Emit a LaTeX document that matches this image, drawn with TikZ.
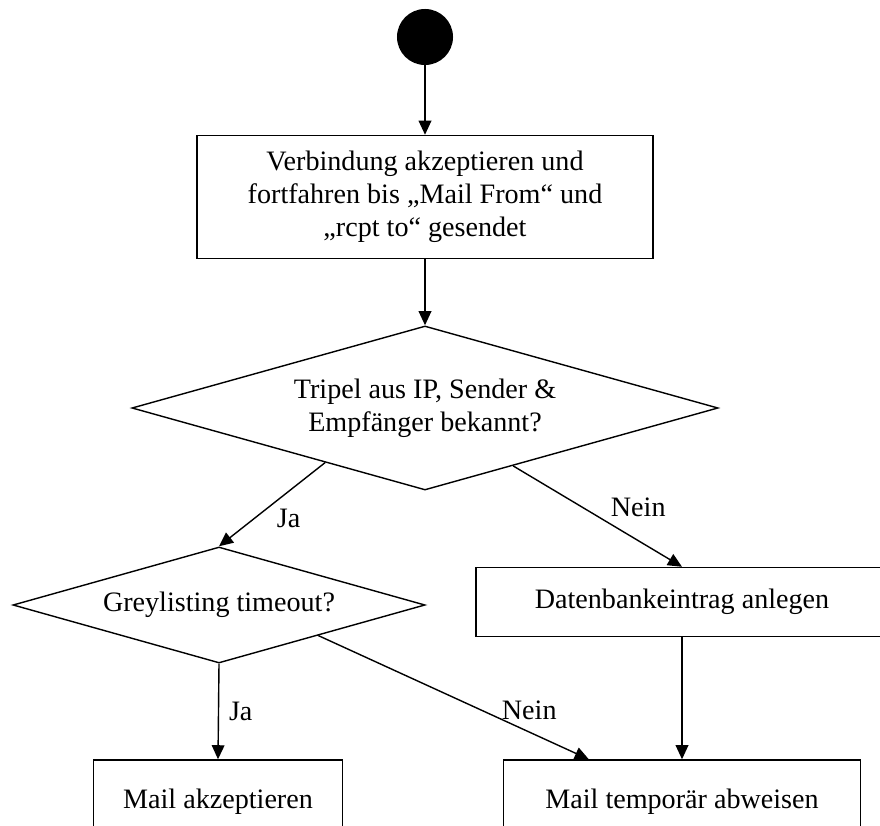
\documentclass[tikz,border=0pt]{standalone}
\usepackage{fontspec}
\setmainfont{Liberation Serif}
\usetikzlibrary{arrows.meta,positioning,calc,shapes.geometric}

\begin{document}
\begin{tikzpicture}[
    x=0.025cm,y=-0.025cm,
    font=\fontsize{20}{23.5}\selectfont,
    box/.style={draw,line width=1pt,align=center,inner sep=0pt},
    decision/.style={draw,diamond,line width=1pt,align=center,inner sep=0pt},
    flow/.style={->,line width=1pt},
    lbl/.style={inner sep=3pt},
    >={Triangle[length=10pt,width=9pt]}
]
\useasboundingbox (0,0) rectangle (880,826);
\clip (0,0) rectangle (880,826);

\node[fill,circle,minimum size=1.4cm,inner sep=0pt] (start) at (425,37) {};
\node[box,minimum width=11.4cm,minimum height=3.075cm] (accept) at (425,197) {Verbindung akzeptieren und\\fortfahren bis „Mail From“ und\\„rcpt to“ gesendet};
\node[decision,aspect=3.57,minimum width=14.65cm,minimum height=4.1cm] (triple) at (425,408) {Tripel aus IP, Sender \&\\Empfänger bekannt?};
\node[decision,aspect=3.55,minimum width=10.3cm,minimum height=2.9cm] (grey) at (219,605) {Greylisting timeout?};
\node[box,minimum width=10.3cm,minimum height=1.725cm] (db) at (682,602) {Datenbankeintrag anlegen};
\node[box,minimum width=6.225cm,minimum height=2.1cm] (mailok) at (218,802) {Mail akzeptieren};
\node[box,minimum width=8.925cm,minimum height=2.1cm] (reject) at (682,802) {Mail temporär abweisen};

\draw[flow] (start) -- (accept);
\draw[flow] (accept) -- (triple);
\draw[flow] ($(triple.west)!0.66!(triple.south)$) -- (grey.north) node[lbl,midway,below right] {Ja};
\draw[flow] ($(triple.east)!0.7!(triple.south)$) -- (db.north) node[lbl,pos=0.55,above right] {Nein};
\draw[flow] (grey.south) -- (mailok.north) node[lbl,midway,right=4pt] {Ja};
\draw[flow] ($(grey.east)!0.52!(grey.south)$) -- ($(reject.north west)!0.24!(reject.north east)$) node[lbl,pos=0.78,above=5pt] {Nein};
\draw[flow] (db.south) -- (reject.north);
\end{tikzpicture}
\end{document}
